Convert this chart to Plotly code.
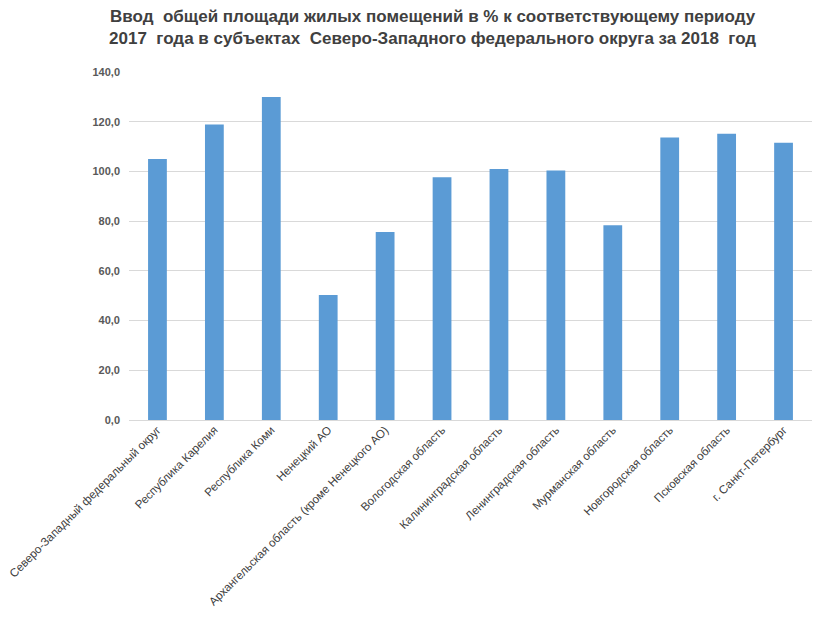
import plotly.graph_objects as go

categories = [
    "Северо-Западный федеральный округ",
    "Республика Карелия",
    "Республика Коми",
    "Ненецкий АО",
    "Архангельская область (кроме Ненецкого АО)",
    "Вологодская область",
    "Калининградская область",
    "Ленинградская область",
    "Мурманская область",
    "Новгородская область",
    "Псковская область",
    "г. Санкт-Петербург",
]
values = [105.0, 118.9, 129.9, 50.3, 75.6, 97.7, 101.0, 100.4, 78.3, 113.6, 115.2, 111.5]
tick_vals = [0, 20, 40, 60, 80, 100, 120, 140]
tick_text = ["0,0", "20,0", "40,0", "60,0", "80,0", "100,0", "120,0", "140,0"]

title_text = ("Ввод  общей площади жилых помещений в % к соответствующему периоду<br>"
              "2017  года в субъектах  Северо-Западного федерального округа за 2018  год")

fig = go.Figure(go.Bar(x=categories, y=values, marker=dict(color="#5b9bd5", line=dict(width=0))))

fig.update_layout(
    width=824, height=624,
    margin=dict(l=129, r=12, t=72, b=204, autoexpand=False),
    paper_bgcolor="white", plot_bgcolor="white",
    bargap=0.67,
    showlegend=False,
    title=dict(text=title_text, x=0.525, xanchor="center", y=0.965, yanchor="top",
               font=dict(family="Liberation Sans Narrow, Arial Narrow, Liberation Sans, sans-serif",
                         size=17, color="#404040", weight="bold")),
    font=dict(family="Liberation Sans, Arial, sans-serif", color="#595959"),
)
fig.update_yaxes(range=[0, 140], tickvals=tick_vals, ticktext=tick_text,
                 showgrid=True, gridcolor="#d9d9d9", gridwidth=1,
                 zeroline=True, zerolinecolor="#d9d9d9", zerolinewidth=1,
                 tickfont=dict(size=11, color="#595959", weight="bold"),
                 ticks="", ticklabelstandoff=8, automargin=False)
fig.update_xaxes(tickangle=-45, tickfont=dict(size=11.6, color="#404040"),
                 showline=False, ticks="", automargin=False)

fig.write_html("out.html")
